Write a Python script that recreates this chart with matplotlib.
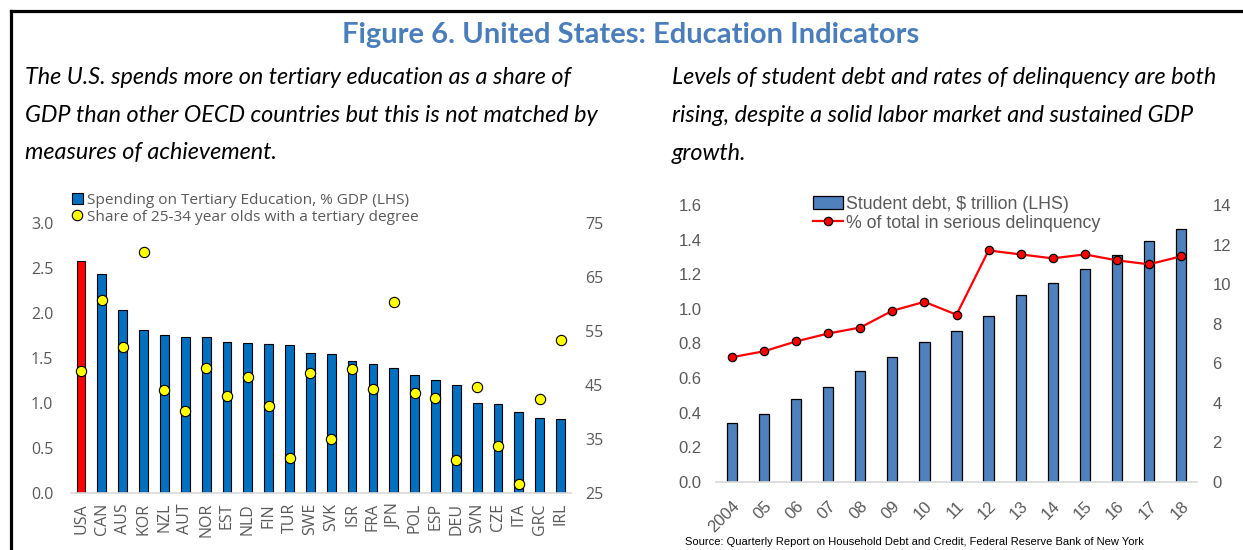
import matplotlib
matplotlib.use("Agg")
import matplotlib.pyplot as plt
from matplotlib.lines import Line2D
from matplotlib.patches import Patch

# --- DATA ---
countries = ["USA", "CAN", "AUS", "KOR", "NZL", "AUT", "NOR", "EST", "NLD", "FIN", "TUR", "SWE",
             "SVK", "ISR", "FRA", "JPN", "POL", "ESP", "DEU", "SVN", "CZE", "ITA", "GRC", "IRL"]
spending_gdp = [2.58, 2.44, 2.04, 1.81, 1.76, 1.74, 1.74, 1.68, 1.67, 1.66, 1.65, 1.56,
                1.55, 1.47, 1.44, 1.39, 1.31, 1.26, 1.20, 1.00, 0.99, 0.90, 0.84, 0.83]
tertiary_share = [47.7, 60.8, 52.0, 69.6, 44.1, 40.3, 48.2, 43.0, 46.5, 41.2, 31.6, 47.3,
                  35.1, 48.0, 44.3, 60.4, 43.5, 42.6, 31.2, 44.6, 33.8, 26.7, 42.5, 53.3]

years = ["2004", "05", "06", "07", "08", "09", "10", "11", "12", "13", "14", "15", "16", "17", "18"]
student_debt = [0.34, 0.39, 0.48, 0.55, 0.64, 0.72, 0.81, 0.87, 0.96, 1.08, 1.15, 1.23, 1.31, 1.39, 1.46]
delinquency = [6.3, 6.6, 7.1, 7.5, 7.8, 8.65, 9.1, 8.45, 11.7, 11.5, 11.3, 11.5, 11.2, 11.0, 11.4]

left_ticks = [0.0, 0.5, 1.0, 1.5, 2.0, 2.5, 3.0]
left_rticks = [25, 35, 45, 55, 65, 75]
right_ticks = [0.0, 0.2, 0.4, 0.6, 0.8, 1.0, 1.2, 1.4, 1.6]
right_rticks = [0, 2, 4, 6, 8, 10, 12, 14]

# --- STYLE ---
W, H = 1243, 550
GRAY = "#595959"
TITLE_BLUE = "#4A7EBB"
SEGOE = ["Open Sans", "DejaVu Sans"]
ARIAL = ["Liberation Sans", "DejaVu Sans"]
CALIBRI = ["Lato", "DejaVu Sans"]


def px_axes(fig, x0, x1, ytop, ybot):
    """Add axes from pixel box (top-left origin)."""
    return fig.add_axes([x0 / W, 1 - ybot / H, (x1 - x0) / W, (ybot - ytop) / H])


fig = plt.figure(figsize=(W / 100, H / 100), dpi=100)

# frame lines (top and left)
fig.add_artist(Line2D([11 / W, 1], [1 - 11 / H, 1 - 11 / H], color="black", lw=2.3,
                      transform=fig.transFigure))
fig.add_artist(Line2D([11 / W, 11 / W], [0, 1 - 11 / H], color="black", lw=2.3,
                      transform=fig.transFigure))

fig.text(631 / W, 1 - 35 / H, "Figure 6. United States: Education Indicators", ha="center", va="center",
         fontsize=21, fontweight="bold", color=TITLE_BLUE, family=CALIBRI)

left_lines = ["The U.S. spends more on tertiary education as a share of",
              "GDP than other OECD countries but this is not matched by",
              "measures of achievement."]
right_lines = ["Levels of student debt and rates of delinquency are both",
               "rising, despite a solid labor market and sustained GDP",
               "growth."]
for i, (l, r) in enumerate(zip(left_lines, right_lines)):
    y = 1 - (77 + 38 * i) / H
    fig.text(25 / W, y, l, ha="left", va="center", fontsize=16.8, style="italic", family=CALIBRI)
    fig.text(672 / W, y, r, ha="left", va="center", fontsize=16.8, style="italic", family=CALIBRI)

# --- LEFT CHART ---
ax1 = px_axes(fig, 70.6, 571, 223.3, 493.3)
x = list(range(len(countries)))
colors = ["#FF0000" if c == "USA" else "#0070C0" for c in countries]
ax1.bar(x, spending_gdp, width=0.42, color=colors, edgecolor="black", linewidth=0.8, zorder=2)
ax1.set_xlim(-0.5, len(countries) - 0.5)
ax1.set_ylim(0, 3.0)
ax1.set_yticks(left_ticks)
ax1.set_yticklabels([f"{t:.1f}" for t in left_ticks])
ax1.set_xticks(x)
ax1.set_xticklabels(countries, rotation=90)
ax1r = ax1.twinx()
ax1r.scatter(x, tertiary_share, s=55, color="#FFFF00", edgecolor="black", linewidth=0.8, zorder=3)
ax1r.set_ylim(25, 75)
ax1r.set_yticks(left_rticks)

for a in (ax1, ax1r):
    for s in a.spines.values():
        s.set_visible(False)
    a.tick_params(length=0, labelcolor=GRAY, labelsize=11.5)
    for lab in a.get_xticklabels() + a.get_yticklabels():
        lab.set_family(SEGOE)
ax1.spines["bottom"].set_visible(True)
ax1.spines["bottom"].set_color("#D9D9D9")
ax1.spines["bottom"].set_linewidth(1.2)
ax1.tick_params(axis="y", pad=12.5)
ax1r.tick_params(axis="y", pad=10)
ax1.tick_params(axis="x", pad=7)

h1 = [Patch(facecolor="#0070C0", edgecolor="black", linewidth=0.8),
      Line2D([], [], marker="o", linestyle="none", markersize=7.5, markerfacecolor="#FFFF00",
             markeredgecolor="black", markeredgewidth=0.8)]
leg1 = fig.legend(h1, ["Spending on Tertiary Education, % GDP (LHS)",
                       "Share of 25-34 year olds with a tertiary degree"],
                  loc="upper left", bbox_to_anchor=(72 / W, 1 - 193 / H), frameon=False,
                  borderaxespad=0, borderpad=0, handlelength=0.7, handleheight=0.7,
                  handletextpad=0.3, labelspacing=0.12, prop={"family": SEGOE, "size": 11.1})
for t in leg1.get_texts():
    t.set_color(GRAY)

# --- RIGHT CHART ---
ax2 = px_axes(fig, 716, 1197, 205, 481.7)
xr = list(range(len(years)))
ax2.bar(xr, student_debt, width=0.32, color="#4F81BD", edgecolor="black", linewidth=0.9, zorder=2)
ax2.set_xlim(-0.5, len(years) - 0.5)
ax2.set_ylim(0, 1.6)
ax2.set_yticks(right_ticks)
ax2.set_yticklabels([f"{t:.1f}" for t in right_ticks])
ax2.set_xticks(xr)
ax2.set_xticklabels(years, rotation=45, ha="right", rotation_mode="anchor")
ax2r = ax2.twinx()
ax2r.plot(xr, delinquency, color="#FF0000", linewidth=1.6, marker="o", markersize=6,
          markerfacecolor="#FF0000", markeredgecolor="black", markeredgewidth=0.9, zorder=3)
ax2r.set_ylim(0, 14)
ax2r.set_yticks(right_rticks)

for a in (ax2, ax2r):
    for s in a.spines.values():
        s.set_visible(False)
    a.tick_params(length=0, labelcolor=GRAY, labelsize=12)
    for lab in a.get_xticklabels() + a.get_yticklabels():
        lab.set_family(ARIAL)
ax2.spines["bottom"].set_visible(True)
ax2.spines["bottom"].set_color("#D9D9D9")
ax2.spines["bottom"].set_linewidth(1.2)
ax2.tick_params(axis="y", pad=10.5)
ax2r.tick_params(axis="y", pad=11)
ax2.tick_params(axis="x", pad=12)

h2 = [Patch(facecolor="#4F81BD", edgecolor="black", linewidth=0.9),
      Line2D([], [], color="#FF0000", linewidth=1.6, marker="o", markersize=6,
             markerfacecolor="#FF0000", markeredgecolor="black", markeredgewidth=0.9)]
leg2 = fig.legend(h2, ["Student debt, $ trillion (LHS)", "% of total in serious delinquency"],
                  loc="upper left", bbox_to_anchor=(813 / W, 1 - 196 / H), frameon=False,
                  borderaxespad=0, borderpad=0, handlelength=1.7, handleheight=0.75,
                  handletextpad=0.15, labelspacing=0.1, prop={"family": ARIAL, "size": 12.8})
for t in leg2.get_texts():
    t.set_color(GRAY)

fig.text(685 / W, 1 - 542 / H,
         "Source: Quarterly Report on Household Debt and Credit, Federal Reserve Bank of New York",
         ha="left", va="center", fontsize=8.0, family=ARIAL, color="black")

fig.savefig("out.png", dpi=100)
